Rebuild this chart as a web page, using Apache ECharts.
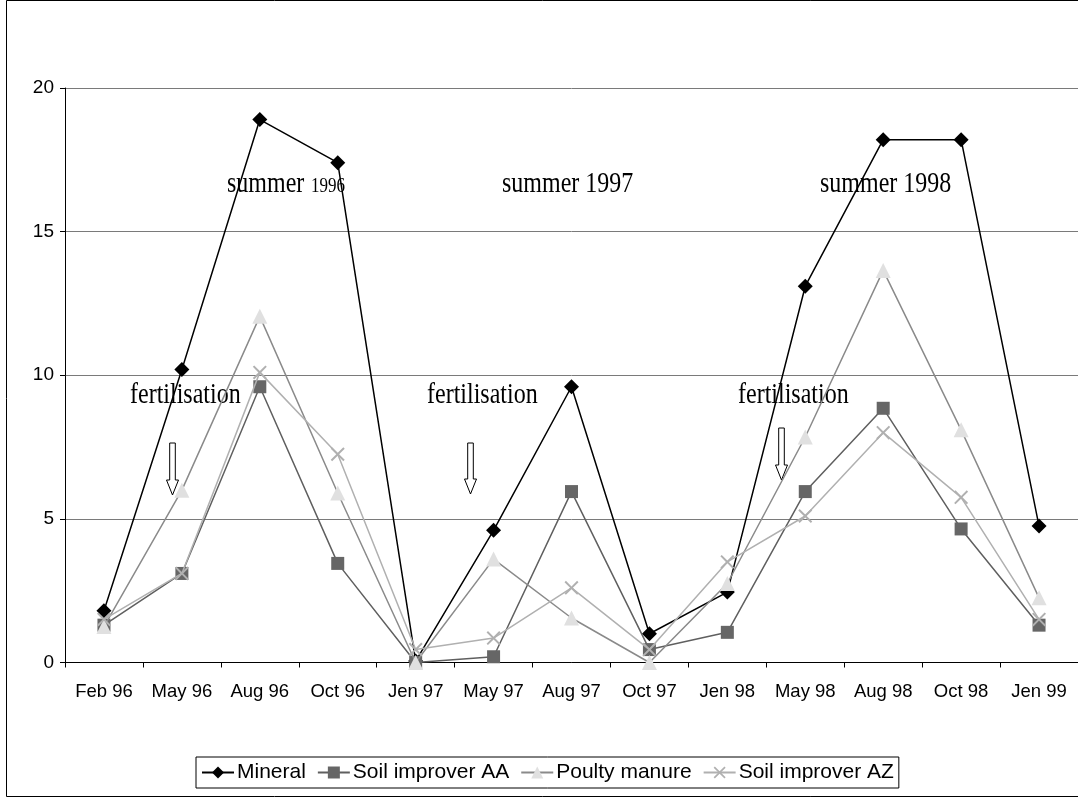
<!DOCTYPE html>
<html>
<head>
<meta charset="utf-8">
<script src="https://cdn.jsdelivr.net/npm/echarts@6/dist/echarts.min.js"></script>
<style>html,body{margin:0;padding:0;background:#fff}#c{width:1078px;height:798px}</style>
</head>
<body>
<div id="c"></div>
<script>
var categories = ['Feb 96','May 96','Aug 96','Oct 96','Jen 97','May 97','Aug 97','Oct 97','Jen 98','May 98','Aug 98','Oct 98','Jen 99'];
var mineral = [1.8, 10.2, 18.9, 17.4, 0.05, 4.6, 9.6, 1.0, 2.45, 13.1, 18.2, 18.2, 4.75];
var soilAA  = [1.3, 3.1, 9.6, 3.45, 0.0, 0.2, 5.95, 0.45, 1.05, 5.95, 8.85, 4.65, 1.3];
var poultry = [1.25, 6.0, 12.05, 5.9, 0.0, 3.6, 1.55, 0.0, 2.75, 7.85, 13.65, 8.1, 2.25];
var soilAZ  = [1.5, 3.1, 10.1, 7.25, 0.45, 0.85, 2.6, 0.45, 3.5, 5.1, 8.0, 5.75, 1.5];
var seriesNames = ['Mineral', 'Soil improver AA', 'Poulty manure', 'Soil improver AZ'];
var yTicks = [0, 5, 10, 15, 20];

var SANS = '"Liberation Sans", Arial, sans-serif';
var SERIF = '"Liberation Serif", "Times New Roman", serif';
var xSym = 'path://M0,1L1,0L5,4L9,0L10,1L6,5L10,9L9,10L5,6L1,10L0,9L4,5Z';

function arrow(cx, top, tip) {
  var sw = 2.8, hw = 6, hh = 15;
  return {
    type: 'polygon', z: 1,
    shape: { points: [[cx - sw, top], [cx + sw, top], [cx + sw, tip - hh], [cx + hw, tip - hh], [cx, tip], [cx - hw, tip - hh], [cx - sw, tip - hh]] },
    style: { fill: '#fff', stroke: '#000', lineWidth: 1 }
  };
}
function label(text, x, y, size, sx) {
  return {
    type: 'text', z: 1, x: x, y: y, scaleX: sx || 0.8, scaleY: 1,
    style: { text: text, font: size + 'px ' + SERIF, fill: '#000', textAlign: 'left', textVerticalAlign: 'middle' }
  };
}

var chart = echarts.init(document.getElementById('c'), null, { renderer: 'canvas' });
chart.setOption({
  backgroundColor: '#fff',
  animation: false,
  grid: { left: 65, right: -8, top: 88, bottom: 135.5, containLabel: false },
  xAxis: {
    type: 'category', data: categories, boundaryGap: true,
    axisLine: { lineStyle: { color: '#000', width: 1 } },
    axisTick: { show: true, length: 5, lineStyle: { color: '#000' } },
    axisLabel: { color: '#000', fontFamily: SANS, fontSize: 18.5, margin: 20, interval: 0 },
    splitLine: { show: false }
  },
  yAxis: {
    type: 'value', min: yTicks[0], max: yTicks[yTicks.length - 1], interval: 5,
    axisLine: { show: true, lineStyle: { color: '#000', width: 1 } },
    axisTick: { show: true, length: 5, lineStyle: { color: '#000' } },
    axisLabel: { color: '#000', fontFamily: SANS, fontSize: 19, margin: 11 },
    splitLine: { show: true, lineStyle: { color: '#7a7a7a', width: 1 } }
  },
  legend: {
    left: 196, top: 757,
    data: seriesNames,
    orient: 'horizontal',
    itemWidth: 32, itemHeight: 15, itemGap: 11,
    padding: [5, 5],
    borderColor: '#000', borderWidth: 1,
    textStyle: { color: '#000', fontFamily: SANS, fontSize: 21, padding: [0, 0, 0, -2] }
  },
  graphic: [
    { type: 'rect', z: 0, shape: { x: 6.5, y: 0.5, width: 1200, height: 796 }, style: { fill: 'none', stroke: '#000', lineWidth: 1 } },
    label('summer', 227, 184, 30),
    label('1996', 311, 187, 20, 0.85),
    label('summer 1997', 502, 184, 30),
    label('summer 1998', 820, 184, 30),
    label('fertilisation', 130, 395, 30),
    label('fertilisation', 427, 395, 30),
    label('fertilisation', 738, 395, 30),
    arrow(172.5, 443, 495),
    arrow(470.5, 443, 494),
    arrow(781.5, 428, 480)
  ],
  series: [
    { name: seriesNames[0], type: 'line', data: mineral, symbol: 'diamond', symbolSize: 15,
      lineStyle: { color: '#000', width: 1.5 }, itemStyle: { color: '#000' }, z: 3 },
    { name: seriesNames[1], type: 'line', data: soilAA, symbol: 'rect', symbolSize: 13,
      lineStyle: { color: '#5f5f5f', width: 1.5 }, itemStyle: { color: '#666' }, z: 4 },
    { name: seriesNames[2], type: 'line', data: poultry, symbol: 'triangle', symbolSize: 15,
      lineStyle: { color: '#8a8a8a', width: 1.5 }, itemStyle: { color: '#e0e0e0' }, z: 5 },
    { name: seriesNames[3], type: 'line', data: soilAZ, symbol: xSym, symbolSize: 14,
      lineStyle: { color: '#b0b0b0', width: 1.5 }, itemStyle: { color: '#b0b0b0' }, z: 6 }
  ]
});
</script>
</body>
</html>
